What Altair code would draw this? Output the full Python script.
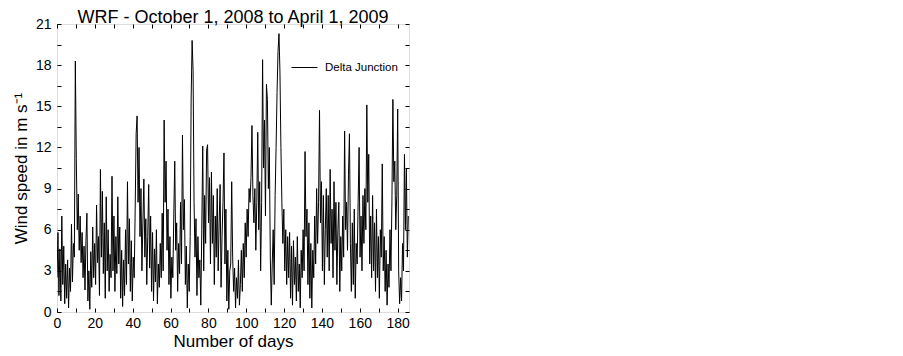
import altair as alt
import pandas as pd

# Half-day samples of WRF wind speed (m/s), in 10-day blocks
speed_d000 = [2.5, 5.8, 1.2, 4.6, 0.8, 7.0, 2.0, 4.8, 0.6, 3.5, 1.0, 3.8, 0.3, 3.2, 1.5, 6.4, 2.2, 5.0, 4.0, 18.3]
speed_d010 = [11.2, 6.0, 8.6, 4.5, 7.0, 3.6, 5.8, 2.5, 4.8, 1.6, 5.2, 7.2, 0.8, 3.0, 0.2, 4.4, 1.8, 6.2, 2.5, 5.0]
speed_d020 = [2.0, 7.8, 3.6, 5.5, 1.2, 10.4, 4.0, 8.8, 2.8, 6.5, 1.0, 8.4, 3.0, 6.0, 1.5, 4.2, 2.5, 9.9, 3.0, 7.0]
speed_d030 = [1.5, 5.5, 2.8, 8.4, 3.5, 6.2, 1.0, 4.5, 0.4, 3.8, 1.2, 6.0, 2.0, 9.5, 3.5, 6.8, 1.5, 5.2, 0.8, 4.0]
speed_d040 = [2.5, 7.5, 13.0, 14.3, 8.0, 12.0, 5.5, 9.0, 3.0, 6.5, 9.7, 4.0, 6.8, 2.0, 5.5, 9.3, 3.2, 7.0, 1.5, 5.8]
speed_d050 = [0.8, 4.6, 2.2, 6.0, 0.6, 3.5, 1.8, 5.0, 2.5, 7.2, 3.0, 14.0, 8.0, 11.0, 4.5, 7.5, 2.0, 5.5, 1.0, 4.0]
speed_d060 = [2.5, 7.0, 11.0, 4.5, 6.5, 1.5, 5.0, 2.8, 8.0, 3.5, 12.9, 6.0, 8.2, 2.0, 4.8, 0.3, 3.5, 1.5, 5.5, 15.6]
speed_d070 = [19.8, 17.6, 8.0, 4.0, 6.8, 1.2, 5.5, 2.5, 3.8, 0.5, 6.0, 12.1, 3.0, 8.5, 5.0, 11.8, 12.2, 6.5, 9.8, 3.5]
speed_d080 = [10.2, 5.0, 8.5, 2.0, 7.0, 4.0, 9.0, 3.0, 6.5, 9.3, 1.8, 5.5, 8.0, 11.6, 3.5, 7.5, 0.8, 4.5, 0.2, 3.0]
speed_d090 = [3.5, 9.5, 4.0, 1.5, 3.2, 0.3, 2.5, 1.0, 3.8, 0.5, 2.0, 4.5, 1.5, 5.0, 2.5, 6.5, 4.0, 7.5, 5.5, 9.0]
speed_d100 = [8.0, 9.8, 13.6, 8.5, 6.5, 9.0, 4.5, 8.0, 13.1, 6.0, 9.5, 3.0, 8.0, 18.4, 10.5, 14.0, 7.0, 16.6, 15.5, 9.0]
speed_d110 = [12.0, 4.0, 0.5, 3.5, 6.0, 2.0, 8.5, 12.0, 16.0, 19.0, 20.3, 17.5, 12.0, 8.0, 5.0, 7.5, 3.0, 6.0, 2.0, 5.5]
speed_d120 = [2.5, 5.8, 1.0, 4.8, 0.5, 5.2, 2.0, 4.0, 0.8, 5.5, 1.5, 3.5, 0.3, 4.5, 2.5, 6.0, 3.0, 11.7, 5.5, 7.5]
speed_d130 = [2.0, 6.5, 1.0, 5.0, 0.3, 4.5, 2.5, 7.0, 3.5, 9.0, 5.0, 8.0, 14.7, 6.5, 9.5, 3.0, 8.5, 2.0, 6.0, 9.0]
speed_d140 = [4.0, 8.5, 3.0, 10.4, 5.0, 7.5, 2.5, 9.5, 4.5, 8.0, 2.0, 6.0, 8.0, 1.5, 5.5, 3.0, 7.0, 4.0, 13.2, 6.0]
speed_d150 = [8.0, 4.5, 10.0, 13.0, 5.0, 1.5, 6.5, 2.0, 7.5, 1.0, 5.0, 3.5, 8.0, 12.0, 4.0, 7.0, 3.0, 8.5, 5.0, 9.0]
speed_d160 = [6.0, 15.1, 8.0, 11.5, 3.5, 7.0, 2.5, 8.5, 3.0, 6.5, 1.5, 7.5, 2.5, 5.5, 1.0, 6.0, 4.0, 10.8, 3.0, 5.5]
speed_d170 = [1.5, 4.5, 0.5, 3.5, 1.8, 6.0, 3.0, 8.0, 15.5, 9.5, 11.0, 6.0, 8.5, 14.8, 3.0, 0.6, 2.5, 0.8, 5.0, 3.0]
speed_d180 = [11.5, 6.0, 10.5, 4.0, 7.0]

x_ticks = list(range(0, 181, 10))
y_ticks = [0, 1.5, 3, 4.5, 6, 7.5, 9, 10.5, 12, 13.5, 15, 16.5, 18, 19.5, 21]
station = "Delta Junction"
step_days = 0.51

speeds = (speed_d000 + speed_d010 + speed_d020 + speed_d030 + speed_d040 + speed_d050
          + speed_d060 + speed_d070 + speed_d080 + speed_d090 + speed_d100 + speed_d110
          + speed_d120 + speed_d130 + speed_d140 + speed_d150 + speed_d160 + speed_d170
          + speed_d180)
df = pd.DataFrame({
    "day": [i * step_days for i in range(len(speeds))],
    "speed": speeds,
    "station": [station] * len(speeds),
})

FONT = "Liberation Sans"
xscale = alt.Scale(domain=[0, 186], nice=False, zero=False)
yscale = alt.Scale(domain=[0, 21], nice=False, zero=False)

line = alt.Chart(df).mark_line(strokeWidth=1, clip=True).encode(
    x=alt.X("day:Q", scale=xscale, title="Number of days",
            axis=alt.Axis(values=x_ticks, labelExpr="datum.value % 20 == 0 ? datum.label : ''",
                          tickSize=4, offset=-4, domain=False, grid=False, labelOverlap=False,
                          labelFlush=False, labelPadding=4, labelFontSize=14, titleFontSize=17,
                          titlePadding=3, labelFont=FONT, titleFont=FONT, titleFontWeight="normal",
                          tickColor="black", labelColor="black", titleColor="black")),
    y=alt.Y("speed:Q", scale=yscale, title="Wind speed in m s\u207b\u00b9",
            axis=alt.Axis(values=y_ticks, labelExpr="datum.value % 3 == 0 ? datum.label : ''",
                          tickSize=4, offset=-4, domain=False, grid=False, labelOverlap=False,
                          labelFlush=False, labelPadding=6, labelFontSize=14, titleFontSize=17,
                          titlePadding=5, labelFont=FONT, titleFont=FONT, titleFontWeight="normal",
                          tickColor="black", labelColor="black", titleColor="black")),
    color=alt.Color("station:N", scale=alt.Scale(range=["black"]),
                    legend=alt.Legend(title=None, orient="none", legendX=234, legendY=30,
                                      symbolType="stroke", symbolSize=676, symbolStrokeWidth=1,
                                      labelFontSize=11.5, labelFont=FONT, labelColor="black",
                                      labelOffset=7, padding=0)),
)

mirror = alt.Chart(df).mark_line(opacity=0).encode(
    x=alt.X("day:Q", scale=xscale, title=None,
            axis=alt.Axis(orient="top", values=x_ticks, labels=False, tickSize=4, offset=-4,
                          domain=False, grid=False, tickColor="black")),
    y=alt.Y("speed:Q", scale=yscale, title=None,
            axis=alt.Axis(orient="right", values=y_ticks, labels=False, tickSize=4, offset=-4,
                          domain=False, grid=False, tickColor="black")),
)

chart = alt.layer(line, mirror).resolve_axis(x="independent", y="independent").properties(
    width=352, height=288,
    autosize=alt.AutoSizeParams(type="none"),
    padding={"left": 49, "top": 16, "right": 12, "bottom": 44},
    title=alt.TitleParams("WRF - October 1, 2008 to April 1, 2009", fontSize=18, font=FONT,
                          fontWeight="normal", color="black", anchor="middle", frame="group",
                          offset=-9.5),
).configure_view(stroke="black", strokeWidth=1).configure(background="white")

chart.save("out.html", embed_options={"renderer": "svg", "actions": False})
